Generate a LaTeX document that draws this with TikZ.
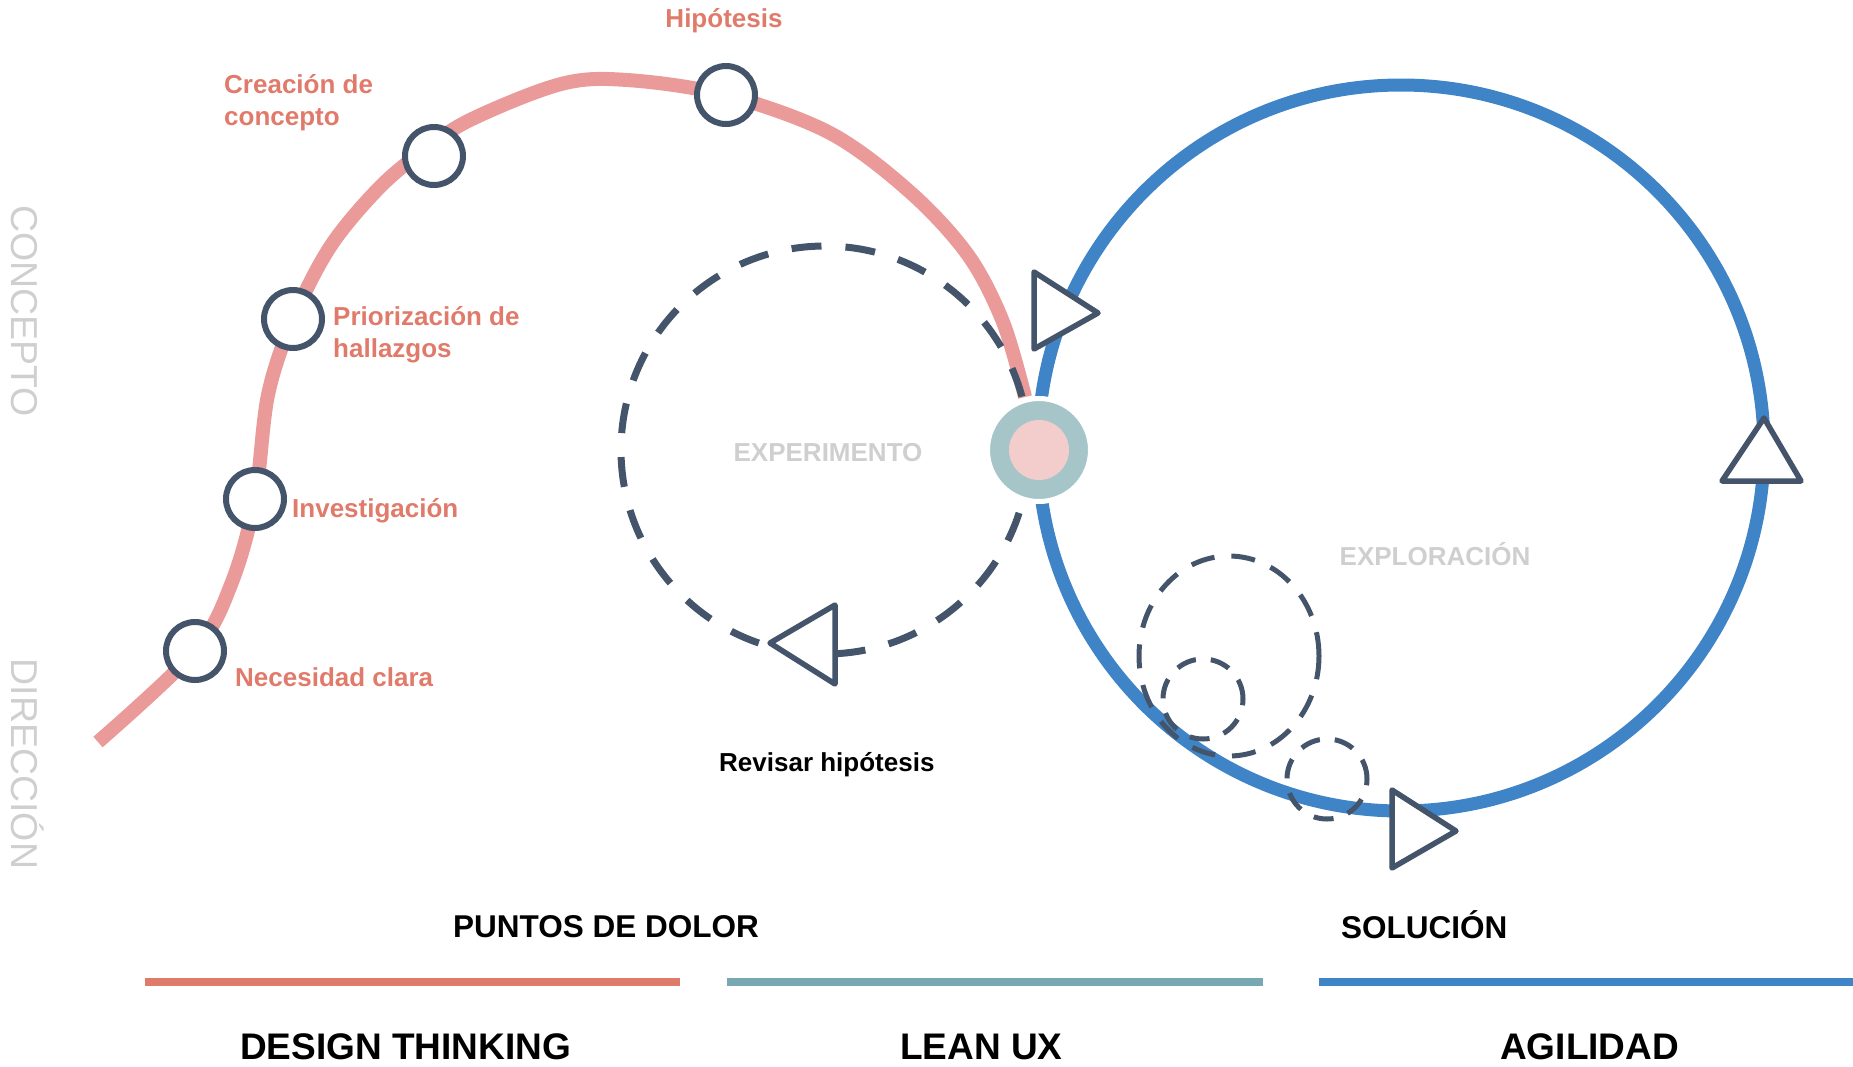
\documentclass[tikz,border=0pt]{standalone}
\usepackage{fontspec}
\setmainfont{Liberation Sans}
\usetikzlibrary{shapes.geometric}
\definecolor{pinkline}{HTML}{E99A99}
\definecolor{salmon}{HTML}{E07B6B}
\definecolor{slate}{HTML}{44546A}
\definecolor{blueline}{HTML}{3F84C6}
\definecolor{redbar}{HTML}{DE7B6B}
\definecolor{tealbar}{HTML}{78A8B1}
\definecolor{tealnode}{HTML}{A6C5C9}
\definecolor{pinknode}{HTML}{F3CCCC}
\definecolor{greytext}{HTML}{CFCFCF}
\begin{document}
\begin{tikzpicture}[x=1pt,y=-1pt,
  stage/.style={circle, draw=slate, line width=6pt, fill=white, minimum size=58pt, inner sep=0pt},
  lbl/.style={text=salmon, font=\fontsize{26}{32}\selectfont\bfseries, anchor=base west, inner sep=0pt, align=left},
  ghost/.style={text=greytext, font=\fontsize{26}{32}\selectfont\bfseries, anchor=base, inner sep=0pt},
  side/.style={text=greytext, font=\fontsize{37.5}{40}\selectfont, anchor=base, inner sep=0pt, rotate=-90},
  phase/.style={text=black, font=\fontsize{31.5}{36}\selectfont\bfseries, anchor=base west, inner sep=0pt},
  method/.style={text=black, font=\fontsize{37}{42}\selectfont\bfseries, anchor=base west, inner sep=0pt},
  tri/.style={draw=slate, fill=white, line width=5.5pt, line join=round},
  bar/.style={line width=8pt},
  smalldash/.style={draw=slate, line width=5pt, dash pattern=on 20pt off 15pt, inner sep=0pt}
]
\useasboundingbox (0,0) rectangle (1853,1066);

% stage positions
\coordinate (p0) at (98,742);
\coordinate (p1) at (195,651);
\coordinate (p2) at (255,499);
\coordinate (p3) at (293,319);
\coordinate (p4) at (434,156);
\coordinate (p5) at (726,95);
\coordinate (pend) at (1025,397);

% pink path
\draw[pinkline, line width=14pt] plot[smooth, tension=0.55] coordinates {
  (p0) (p1) (232,582) (p2) (268,395) (p3) (330,247) (377,190) (420,153) (470,120) (561,84) (627,80) (p5)
  (830,133) (910,192) (968,255) (1003,322) (pend)};

% blue loop
\node[circle, draw=blueline, line width=13pt, minimum size=726pt, inner sep=0pt] (agile) at (1401,448) {};

% experiment dashed loop
\node[circle, draw=slate, line width=7pt, dash pattern=on 30pt off 24pt, minimum size=408pt, inner sep=0pt] (exp) at (825,450) {};

% exploration dashed loops
\node[ellipse, smalldash, dash pattern=on 24pt off 17pt, minimum width=180pt, minimum height=200pt] (big) at (1229,656) {};
\node[circle, smalldash, minimum size=80pt] (small1) at (1203,699) {};
\node[circle, smalldash, minimum size=80pt] (small2) at (1327,779) {};

% hub
\node[circle, fill=tealnode, draw=white, line width=5pt, minimum size=103pt, inner sep=0pt] (hub) at (1039,450) {};
\node[circle, fill=pinknode, minimum size=60pt, inner sep=0pt] (hubcore) at (hub) {};

% stage circles
\node[stage] (s1) at (p1) {};
\node[stage] (s2) at (p2) {};
\node[stage] (s3) at (p3) {};
\node[stage] (s4) at (p4) {};
\node[stage] (s5) at (p5) {};

% arrowheads
\draw[tri] (1034,272) -- (1098,313) -- (1034,349) -- cycle;
\draw[tri] (1764,418) -- (1801,481) -- (1722,481) -- cycle;
\draw[tri] (1392,790) -- (1456,831) -- (1392,868) -- cycle;
\draw[tri] (770,643) -- (835,605) -- (835,684) -- cycle;

% labels
\node[lbl, anchor=base] (t5) at (724,27) {Hipótesis};
\node[lbl] (t4) at (224,125.6) {Creación de\\concepto};
\node[lbl] (t3) at (333,357) {Priorización de\\hallazgos};
\node[lbl] (t2) at (292,517) {Investigación};
\node[lbl] (t1) at (235,686) {Necesidad clara};

\node[ghost] (texp) at (828,461) {EXPERIMENTO};
\node[ghost] (texpl) at (1435,565) {EXPLORACIÓN};

\node[text=black, font=\fontsize{26}{32}\selectfont\bfseries, anchor=base west, inner sep=0pt] (trev) at (719,771) {Revisar hipótesis};

\node[side] (tcon) at (11,311) {CONCEPTO};
\node[side] (tdir) at (11,764) {DIRECCIÓN};

\node[phase] (tpd) at (453,937) {PUNTOS DE DOLOR};
\node[phase] (tsol) at (1341,938) {SOLUCIÓN};

% bars
\coordinate (b1a) at (145,982); \coordinate (b1b) at (680,982);
\coordinate (b2a) at (727,982); \coordinate (b2b) at (1263,982);
\coordinate (b3a) at (1319,982); \coordinate (b3b) at (1853,982);
\draw[bar, redbar] (b1a) -- (b1b);
\draw[bar, tealbar] (b2a) -- (b2b);
\draw[bar, blueline] (b3a) -- (b3b);

\node[method] (tdt) at (240,1059) {DESIGN THINKING};
\node[method] (tlux) at (900,1059) {LEAN UX};
\node[method] (tag) at (1500,1059) {AGILIDAD};
\end{tikzpicture}
\end{document}
